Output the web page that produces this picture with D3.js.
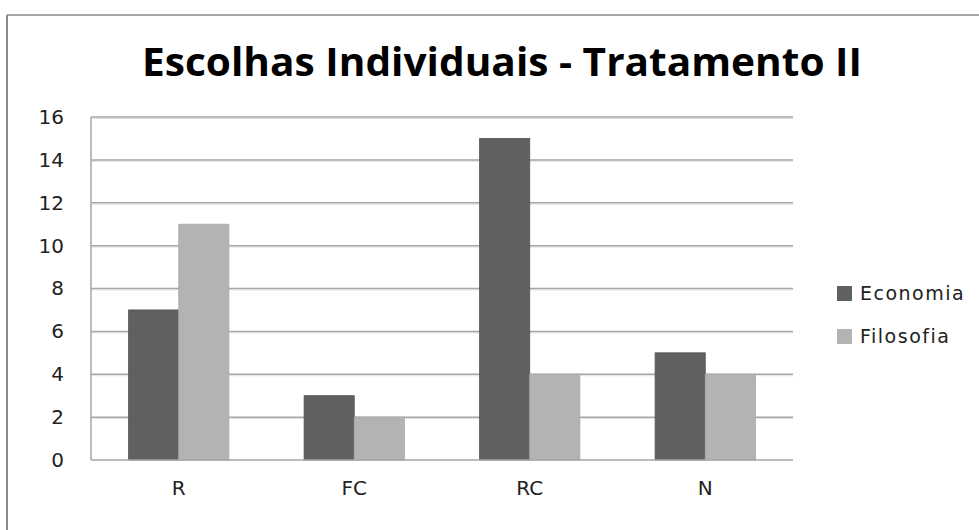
<!DOCTYPE html>
<html>
<head>
<meta charset="utf-8">
<script src="https://cdn.jsdelivr.net/npm/d3@7"></script>
<style>
  body { margin: 0; background: #fff; }
  svg { display: block; }
</style>
</head>
<body>
<svg id="chart" width="979" height="530"></svg>
<script>
// Chart data
var categories = ["R", "FC", "RC", "N"];
var seriesNames = ["Economia", "Filosofia"];
var economia = [7, 3, 15, 5];
var filosofia = [11, 2, 4, 4];
var yTicks = [0, 2, 4, 6, 8, 10, 12, 14, 16];
var colors = ["#606060", "#b3b3b3"];

var svg = d3.select("#chart");
var plotLeft = 91, plotRight = 793, plotTop = 117, plotBottom = 460;

// frame of the chart area
svg.append("line").attr("x1", 7).attr("x2", 7).attr("y1", 15).attr("y2", 530)
    .attr("stroke", "#8a8a8a").attr("stroke-width", 2);
svg.append("line").attr("x1", 7).attr("x2", 979).attr("y1", 15).attr("y2", 15)
    .attr("stroke", "#8a8a8a").attr("stroke-width", 1.5);

// title
svg.append("text")
    .attr("x", 502).attr("y", 76)
    .attr("text-anchor", "middle")
    .attr("font-family", "'Liberation Sans Narrow', 'Open Sans', sans-serif")
    .attr("font-weight", "bold")
    .attr("font-size", 40)
    .attr("textLength", 720)
    .attr("lengthAdjust", "spacingAndGlyphs")
    .attr("fill", "#000")
    .text("Escolhas Individuais - Tratamento II");

var x0 = d3.scaleBand().domain(categories).range([plotLeft, plotRight]).paddingInner(0).paddingOuter(0);
var x1 = d3.scaleBand().domain(seriesNames).range([0, x0.bandwidth()]).paddingInner(0).paddingOuter(0.75);
var y = d3.scaleLinear().domain([0, 16]).range([plotBottom, plotTop]);

// gridlines
var grid = svg.append("g");
yTicks.forEach(function (t) {
    if (t === 0) return;
    grid.append("line").attr("x1", plotLeft).attr("x2", plotRight)
        .attr("y1", y(t) + 1.5).attr("y2", y(t) + 1.5)
        .attr("stroke", "#e2e2e2").attr("stroke-width", 1);
    grid.append("line").attr("x1", plotLeft).attr("x2", plotRight)
        .attr("y1", y(t)).attr("y2", y(t))
        .attr("stroke", "#a6a6a6").attr("stroke-width", 1.5);
});

// y axis line
svg.append("line").attr("x1", plotLeft).attr("x2", plotLeft).attr("y1", plotTop).attr("y2", plotBottom)
    .attr("stroke", "#a6a6a6").attr("stroke-width", 1.5);

// y tick labels
var yAxis = d3.axisLeft(y).tickValues(yTicks).tickSize(0).tickPadding(27);
var gy = svg.append("g").attr("transform", "translate(" + plotLeft + ",0)").call(yAxis);
gy.select(".domain").remove();
gy.selectAll("text")
    .attr("font-family", "'DejaVu Sans', sans-serif")
    .attr("font-size", 20)
    .attr("fill", "#222");

// bars
var rows = categories.map(function (c, i) {
    return { cat: c, values: [economia[i], filosofia[i]] };
});
var groups = svg.selectAll(".grp").data(rows).enter().append("g")
    .attr("class", "grp")
    .attr("transform", function (d) { return "translate(" + x0(d.cat) + ",0)"; });
groups.selectAll("rect")
    .data(function (d) { return d.values.map(function (v, j) { return { name: seriesNames[j], v: v, j: j }; }); })
    .enter().append("rect")
    .attr("x", function (d) { return x1(d.name); })
    .attr("y", function (d) { return y(d.v); })
    .attr("width", x1.bandwidth())
    .attr("height", function (d) { return plotBottom - y(d.v); })
    .attr("fill", function (d) { return colors[d.j]; })
    .attr("stroke", function (d) { return d.j === 0 ? "#555" : "#aaa"; })
    .attr("stroke-width", 0.8);

// x axis line
svg.append("line").attr("x1", plotLeft).attr("x2", plotRight).attr("y1", plotBottom).attr("y2", plotBottom)
    .attr("stroke", "#a6a6a6").attr("stroke-width", 1.5);

// x labels
var xAxis = d3.axisBottom(x0).tickSize(0).tickPadding(21);
var gx = svg.append("g").attr("transform", "translate(0," + plotBottom + ")").call(xAxis);
gx.select(".domain").remove();
gx.selectAll("text")
    .attr("font-family", "'DejaVu Sans', sans-serif")
    .attr("font-size", 20)
    .attr("fill", "#222");

// legend
var legend = svg.selectAll(".leg").data(seriesNames).enter().append("g")
    .attr("class", "leg")
    .attr("transform", function (d, i) { return "translate(837," + (286 + i * 43) + ")"; });
legend.append("rect").attr("width", 15).attr("height", 15)
    .attr("fill", function (d, i) { return colors[i]; });
legend.append("text").attr("x", 23).attr("y", 14)
    .attr("font-family", "'DejaVu Sans', sans-serif")
    .attr("font-size", 19)
    .attr("letter-spacing", 1.5)
    .attr("fill", "#222")
    .text(function (d) { return d; });
</script>
</body>
</html>
